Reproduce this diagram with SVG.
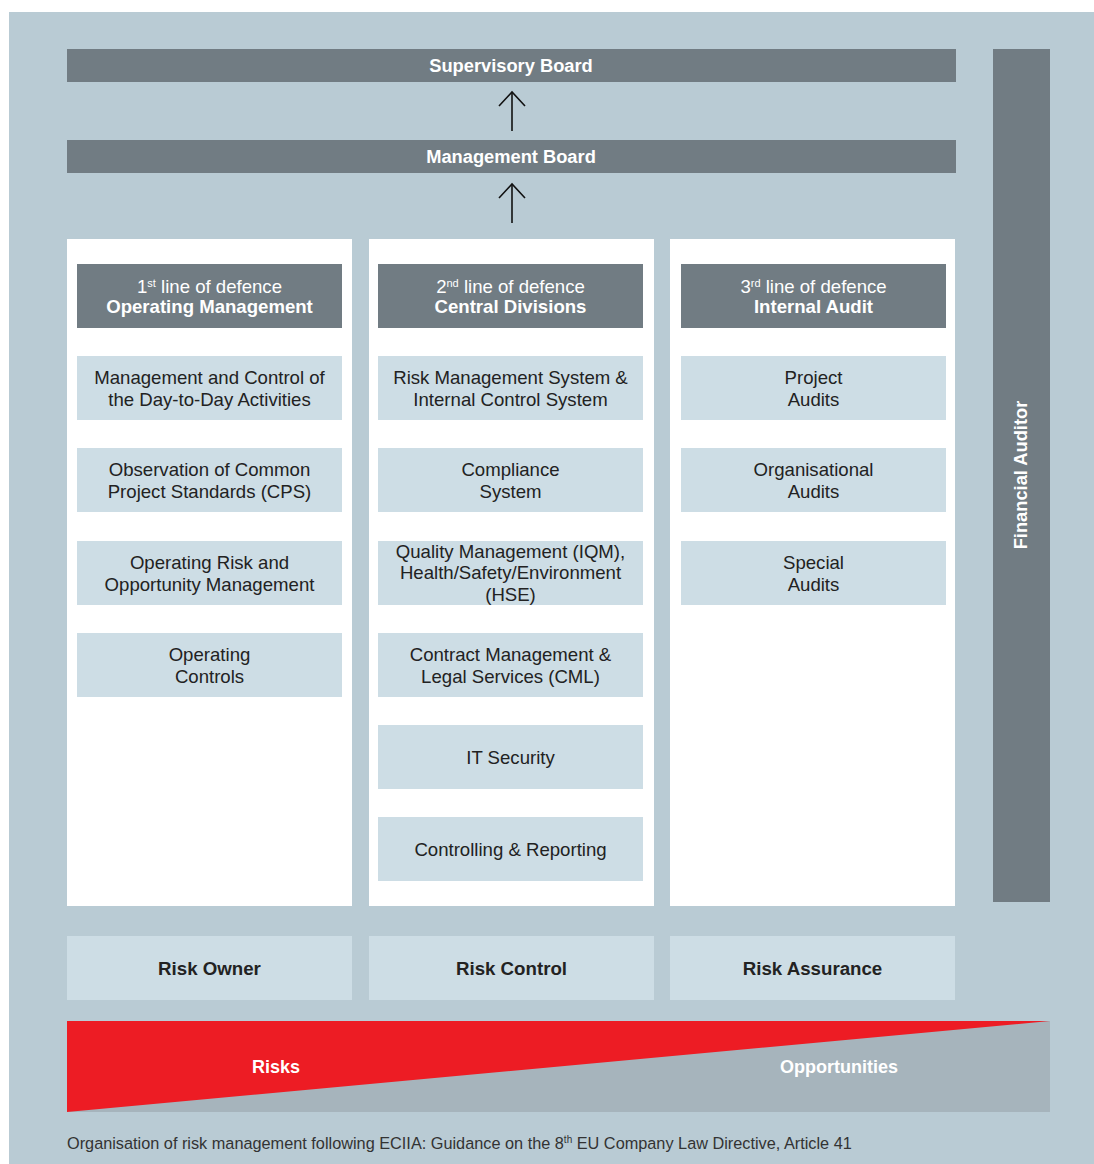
<svg xmlns="http://www.w3.org/2000/svg" width="1094" height="1164" viewBox="0 0 1094 1164">
<style>
text{font-family:"Liberation Sans",Arial,sans-serif;text-anchor:middle}
.bg{fill:#b9cbd4}
.dark{fill:#717c83}
.panel{fill:#ffffff}
.item{fill:#cddde5}
.t{font-size:18.6px;fill:#222}
.tw{font-size:18.6px;fill:#ffffff}
.bw{font-size:18.6px;font-weight:bold;fill:#ffffff}
.bs{font-size:18.3px;font-weight:bold;fill:#ffffff}
.bb{font-size:18.7px;font-weight:bold;fill:#222}
.sup{font-size:11px}
.conn{stroke:#111;stroke-width:1.6;fill:none}
</style>
<defs>
<marker id="ah" viewBox="0 0 30 30" refX="16" refY="15" markerWidth="30" markerHeight="30" markerUnits="userSpaceOnUse" orient="auto">
<path d="M2,2 L16,15 L2,28" fill="none" stroke="#111" stroke-width="1.6"/>
</marker>
</defs>
<rect class="bg" x="9" y="12" width="1085" height="1152"/>

<g id="supervisory-board">
<rect class="dark" x="67" y="49" width="889" height="33"/>
<text class="bs" x="511" y="72">Supervisory Board</text>
</g>
<g id="management-board">
<rect class="dark" x="67" y="140" width="889" height="33"/>
<text class="bs" x="511" y="163">Management Board</text>
</g>
<g id="financial-auditor">
<rect class="dark" x="993" y="49" width="57" height="853"/>
<text class="bs" transform="translate(1027,475) rotate(-90)">Financial Auditor</text>
</g>

<g id="connectors">
<line class="conn" x1="512" y1="131" x2="512" y2="92" marker-end="url(#ah)"/>
<line class="conn" x1="512" y1="223" x2="512" y2="184" marker-end="url(#ah)"/>
</g>

<g id="col1">
<rect class="panel" x="67" y="239" width="285" height="667"/>
<g id="hdr1"><rect class="dark" x="77" y="264" width="265" height="64"/>
<text class="tw" x="209.5" y="293">1<tspan class="sup" dy="-6">st</tspan><tspan dy="6"> line of defence</tspan></text>
<text class="bw" x="209.5" y="313">Operating Management</text></g>
<g id="c1i1"><rect class="item" x="77" y="356" width="265" height="64"/>
<text class="t" x="209.5" y="384">Management and Control of</text><text class="t" x="209.5" y="406">the Day-to-Day Activities</text></g>
<g id="c1i2"><rect class="item" x="77" y="448" width="265" height="64"/>
<text class="t" x="209.5" y="476">Observation of Common</text><text class="t" x="209.5" y="498">Project Standards (CPS)</text></g>
<g id="c1i3"><rect class="item" x="77" y="541" width="265" height="64"/>
<text class="t" x="209.5" y="569">Operating Risk and</text><text class="t" x="209.5" y="591">Opportunity Management</text></g>
<g id="c1i4"><rect class="item" x="77" y="633" width="265" height="64"/>
<text class="t" x="209.5" y="661">Operating</text><text class="t" x="209.5" y="683">Controls</text></g>
</g>

<g id="col2">
<rect class="panel" x="369" y="239" width="285" height="667"/>
<g id="hdr2"><rect class="dark" x="378" y="264" width="265" height="64"/>
<text class="tw" x="510.5" y="293">2<tspan class="sup" dy="-6">nd</tspan><tspan dy="6"> line of defence</tspan></text>
<text class="bw" x="510.5" y="313">Central Divisions</text></g>
<g id="c2i1"><rect class="item" x="378" y="356" width="265" height="64"/>
<text class="t" x="510.5" y="384">Risk Management System &amp;</text><text class="t" x="510.5" y="406">Internal Control System</text></g>
<g id="c2i2"><rect class="item" x="378" y="448" width="265" height="64"/>
<text class="t" x="510.5" y="476">Compliance</text><text class="t" x="510.5" y="498">System</text></g>
<g id="c2i3"><rect class="item" x="378" y="541" width="265" height="64"/>
<text class="t" x="510.5" y="558">Quality Management (IQM),</text><text class="t" x="510.5" y="579">Health/Safety/Environment</text><text class="t" x="510.5" y="601">(HSE)</text></g>
<g id="c2i4"><rect class="item" x="378" y="633" width="265" height="64"/>
<text class="t" x="510.5" y="661">Contract Management &amp;</text><text class="t" x="510.5" y="683">Legal Services (CML)</text></g>
<g id="c2i5"><rect class="item" x="378" y="725" width="265" height="64"/>
<text class="t" x="510.5" y="764">IT Security</text></g>
<g id="c2i6"><rect class="item" x="378" y="817" width="265" height="64"/>
<text class="t" x="510.5" y="856">Controlling &amp; Reporting</text></g>
</g>

<g id="col3">
<rect class="panel" x="670" y="239" width="285" height="667"/>
<g id="hdr3"><rect class="dark" x="681" y="264" width="265" height="64"/>
<text class="tw" x="813.5" y="293">3<tspan class="sup" dy="-6">rd</tspan><tspan dy="6"> line of defence</tspan></text>
<text class="bw" x="813.5" y="313">Internal Audit</text></g>
<g id="c3i1"><rect class="item" x="681" y="356" width="265" height="64"/>
<text class="t" x="813.5" y="384">Project</text><text class="t" x="813.5" y="406">Audits</text></g>
<g id="c3i2"><rect class="item" x="681" y="448" width="265" height="64"/>
<text class="t" x="813.5" y="476">Organisational</text><text class="t" x="813.5" y="498">Audits</text></g>
<g id="c3i3"><rect class="item" x="681" y="541" width="265" height="64"/>
<text class="t" x="813.5" y="569">Special</text><text class="t" x="813.5" y="591">Audits</text></g>
</g>

<g id="risk-owner"><rect class="item" x="67" y="936" width="285" height="64"/><text class="bb" x="209.5" y="975">Risk Owner</text></g>
<g id="risk-control"><rect class="item" x="369" y="936" width="285" height="64"/><text class="bb" x="511.5" y="975">Risk Control</text></g>
<g id="risk-assurance"><rect class="item" x="670" y="936" width="285" height="64"/><text class="bb" x="812.5" y="975">Risk Assurance</text></g>

<g id="risk-opportunity">
<rect x="67" y="1021" width="983" height="91" fill="#a6b4bc"/>
<polygon points="67,1021 1050,1021 67,1112" fill="#ed1c24"/>
<text x="276" y="1073" style="font-size:18px;font-weight:bold;fill:#fff">Risks</text>
<text x="839" y="1073" style="font-size:18px;font-weight:bold;fill:#fff">Opportunities</text>
</g>

<text x="67" y="1149" style="text-anchor:start;font-size:16.3px;fill:#333">Organisation of risk management following ECIIA: Guidance on the 8<tspan style="font-size:10px" dy="-6">th</tspan><tspan dy="6"> EU Company Law Directive, Article 41</tspan></text>
</svg>
